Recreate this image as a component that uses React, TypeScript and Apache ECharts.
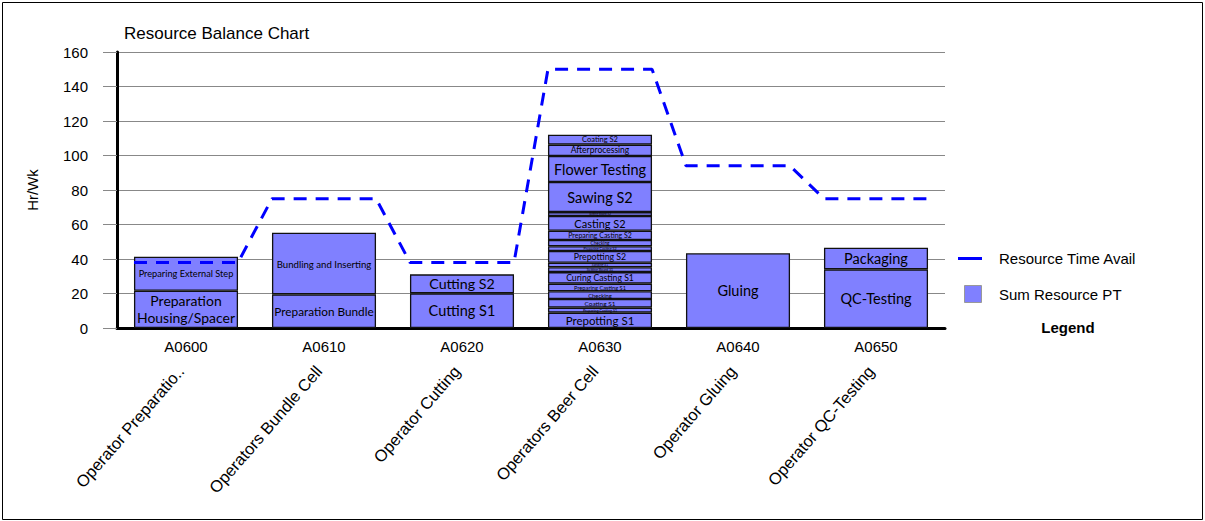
import React, { useEffect, useRef } from "react";
import * as echarts from "echarts";

const categories = ["A0600", "A0610", "A0620", "A0630", "A0640", "A0650"];
const operators = [
  "Operator Preparatio..",
  "Operators Bundle Cell",
  "Operator Cutting",
  "Operators Beer Cell",
  "Operator Gluing",
  "Operator QC-Testing",
];
const availTime = [38, 75, 38, 150, 94, 75];

const a0600Names = ["Preparation\nHousing/Spacer", "Preparing External Step"];
const a0600Values = [21.6, 19.7];
const a0610Names = ["Preparation Bundle", "Bundling and Inserting"];
const a0610Values = [19.5, 35.7];
const a0620Names = ["Cutting S1", "Cutting S2"];
const a0620Values = [20.1, 11.0];
const a0630Names = [
  "Prepotting S1",
  "Preparing Casting S1",
  "Coating S1",
  "Checking",
  "Preparing Casting S1",
  "Curing Casting S1",
  "Setting Board S1",
  "Sanding S1",
  "Prepotting S2",
  "Preparing Casting S2",
  "Checking",
  "Preparing Casting S2",
  "Casting S2",
  "Setting Board S2",
  "Sawing S2",
  "Flower Testing",
  "Afterprocessing",
  "Coating S2",
];
const a0630Values = [8.9, 2.9, 5.0, 4.5, 4.4, 6.7, 2.8, 2.6, 6.8, 2.8, 3.6, 5.4, 8.5, 2.3, 17.4, 15.1, 6.6, 5.8];
const a0640Names = ["Gluing"];
const a0640Values = [43.3];
const a0650Names = ["QC-Testing", "Packaging"];
const a0650Values = [34.0, 12.5];

const yTicks = { min: 0, max: 160, interval: 20 };

const stacks = [
  { names: a0600Names, values: a0600Values },
  { names: a0610Names, values: a0610Values },
  { names: a0620Names, values: a0620Values },
  { names: a0630Names, values: a0630Values },
  { names: a0640Names, values: a0640Values },
  { names: a0650Names, values: a0650Values },
];

const GRID = { left: 117, right: 260, top: 52, bottom: 193 };
const CH = 521;
const BAR_FRAC = 0.754;
const pxPerUnit = (CH - GRID.top - GRID.bottom) / (yTicks.max - yTicks.min);

function fontFor(name: string, value: number) {
  const lines = name.split("\n");
  const maxLen = Math.max(...lines.map((l) => l.length));
  const hpx = value * pxPerUnit;
  return Math.max(2.5, Math.min(14.5, (hpx * 0.75) / lines.length, 212 / maxLen));
}

function buildOption() {
  const maxLayers = Math.max(...stacks.map((s) => s.values.length));
  const barSeries: any[] = [];
  for (let k = 0; k < maxLayers; k++) {
    barSeries.push({
      type: "bar",
      name: "Sum Resource PT",
      stack: "pt",
      xAxisIndex: 0,
      yAxisIndex: 0,
      barWidth: BAR_FRAC * 100 + "%",
      itemStyle: { color: "#8080FF", borderColor: "#111", borderWidth: 1.3 },
      label: {
        show: true,
        position: "inside",
        color: "#000",
        fontFamily: "Lato",
        overflow: "none",
        formatter: (p: any) => stacks[p.dataIndex].names[k],
      },
      data: stacks.map((s) => {
        if (k >= s.values.length) return "-";
        const fs = fontFor(s.names[k], s.values[k]);
        return {
          value: s.values[k],
          label: { fontSize: fs, lineHeight: fs * 1.2 },
        };
      }),
      z: 2,
    });
  }
  const edge = (1 - BAR_FRAC) / 2;
  const lineData: number[][] = [];
  availTime.forEach((v, i) => {
    lineData.push([i + edge, v]);
    lineData.push([i + 1 - edge, v]);
  });

  const axisFont = { fontFamily: "Liberation Sans", fontSize: 15, color: "#000" };

  return {
    animation: false,
    backgroundColor: "#fff",
    title: {
      text: "Resource Balance Chart",
      left: 124,
      top: 25,
      padding: 0,
      textStyle: { fontFamily: "Liberation Sans", fontSize: 17, fontWeight: "normal", color: "#000" },
    },
    grid: { ...GRID, containLabel: false },
    xAxis: [
      {
        type: "category",
        data: categories,
        position: "bottom",
        axisLine: { show: true, lineStyle: { color: "#000", width: 3 } },
        axisTick: { show: false },
        axisLabel: { ...axisFont, margin: 11 },
        splitLine: { show: false },
      },
      {
        type: "value",
        min: 0,
        max: categories.length,
        show: false,
      },
      {
        type: "category",
        data: operators,
        position: "bottom",
        offset: 26,
        axisLine: { show: false },
        axisTick: { show: false },
        axisLabel: { ...axisFont, fontSize: 16.5, rotate: 49, margin: 8, interval: 0, padding: [0, 8, 0, 0] },
        splitLine: { show: false },
      },
    ],
    yAxis: {
      type: "value",
      min: yTicks.min,
      max: yTicks.max,
      interval: yTicks.interval,
      name: "Hr/Wk",
      nameLocation: "middle",
      nameGap: 77,
      nameTextStyle: { ...axisFont },
      axisLine: { show: true, lineStyle: { color: "#000", width: 3 } },
      axisTick: { show: true, length: 14, lineStyle: { color: "#888", width: 1 } },
      axisLabel: { ...axisFont, margin: 29 },
      splitLine: { show: true, lineStyle: { color: "#888", width: 1 } },
    },
    series: [
      ...barSeries,
      {
        type: "line",
        name: "Resource Time Avail",
        xAxisIndex: 1,
        yAxisIndex: 0,
        data: lineData,
        symbol: "none",
        lineStyle: { color: "#0000FF", width: 3, type: [13, 9] },
        z: 5,
      },
    ],
    graphic: [
      {
        type: "rect",
        shape: { x: 2.5, y: 2.5, width: 1200, height: 517 },
        style: { fill: "none", stroke: "#000", lineWidth: 1 },
        silent: true,
      },
      {
        type: "line",
        shape: { x1: 958, y1: 258.5, x2: 982, y2: 258.5 },
        style: { stroke: "#0000FF", lineWidth: 3 },
      },
      {
        type: "text",
        x: 999,
        y: 258,
        style: { text: "Resource Time Avail", fill: "#000", font: "15px 'Liberation Sans'", verticalAlign: "middle" },
      },
      {
        type: "rect",
        shape: { x: 964.5, y: 285.5, width: 17, height: 17 },
        style: { fill: "#8080FF", stroke: "#999", lineWidth: 1 },
      },
      {
        type: "text",
        x: 999,
        y: 294,
        style: { text: "Sum Resource PT", fill: "#000", font: "15px 'Liberation Sans'", verticalAlign: "middle" },
      },
      {
        type: "text",
        x: 1068,
        y: 327,
        style: {
          text: "Legend",
          fill: "#000",
          font: "bold 15px 'Liberation Sans'",
          align: "center",
          verticalAlign: "middle",
        },
      },
    ],
  };
}

export default function App() {
  const ref = useRef<HTMLDivElement>(null);
  useEffect(() => {
    document.body.style.margin = "0";
    const chart = echarts.init(ref.current!, null, { renderer: "svg" });
    chart.setOption(buildOption() as any);
    return () => chart.dispose();
  }, []);
  return <div ref={ref} style={{ width: 1205, height: 521 }} />;
}
